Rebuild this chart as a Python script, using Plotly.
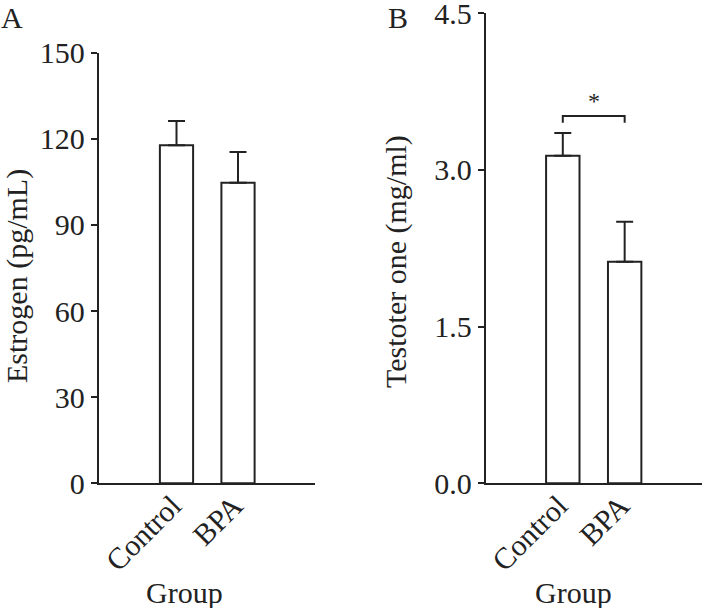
import plotly.graph_objects as go

groups = ["Control", "BPA"]
estrogen = [117.8, 104.7]
estrogen_err = [8.4, 10.7]
testosterone = [3.137, 2.122]
testosterone_err = [0.217, 0.383]
sig_level = 3.517
sig_label = "*"

W, H = 702, 608
FONT = "Liberation Serif"
LC = "#222222"
FS = 30

fig = go.Figure()
xpos = list(range(len(groups)))

for vals, errs, xa, ya in [(estrogen, estrogen_err, "x", "y"), (testosterone, testosterone_err, "x2", "y2")]:
    fig.add_trace(go.Bar(
        x=xpos, y=vals, width=0.54,
        marker=dict(color="white", line=dict(color=LC, width=2)),
        error_y=dict(type="data", symmetric=False, array=errs, arrayminus=[0] * len(errs),
                     color=LC, thickness=2, width=8.5),
        xaxis=xa, yaxis=ya, showlegend=False, hoverinfo="skip"))

ydom = [1 - 483.3 / H, 1 - 52.7 / H]
ydom2 = [1 - 483.3 / H, 1 - 13.3 / H]

axis_common = dict(showline=True, linewidth=2, linecolor=LC, showgrid=False, zeroline=False,
                   automargin=False, ticklabeloverflow="allow",
                   tickfont=dict(family=FONT, size=FS, color=LC))
xaxis_extra = dict(tickangle=-45, ticks="", ticklabelstandoff=-9, ticklabelshift=-4)

fig.update_layout(
    width=W, height=H, margin=dict(l=0, r=0, t=0, b=0, autoexpand=False),
    paper_bgcolor="white", plot_bgcolor="white",
    xaxis=dict(domain=[98.7 / W, 315 / W], range=[-1.265, 2.252], tickvals=xpos, ticktext=groups,
               anchor="y", **xaxis_extra, **axis_common),
    yaxis=dict(domain=ydom, range=[0, 150], tickvals=[0, 30, 60, 90, 120, 150],
               ticks="outside", ticklen=6, tickwidth=2, tickcolor=LC, anchor="x", **axis_common),
    xaxis2=dict(domain=[485.7 / W, 1.0], range=[-1.246, 2.25], tickvals=xpos, ticktext=groups,
                anchor="y2", **xaxis_extra, **axis_common),
    yaxis2=dict(domain=ydom2, range=[0, 4.5], tickvals=[0, 1.5, 3.0, 4.5], tickformat=".1f",
                ticks="outside", ticklen=6, tickwidth=2, tickcolor=LC, anchor="x2", **axis_common),
)

# significance bracket
drop = 0.064
fig.add_shape(type="path", xref="x2", yref="y2",
              path=f"M {xpos[0]},{sig_level - drop} L {xpos[0]},{sig_level} L {xpos[1]},{sig_level} L {xpos[1]},{sig_level - drop}",
              line=dict(color=LC, width=2))
fig.add_annotation(x=(xpos[0] + xpos[1]) / 2, y=sig_level, xref="x2", yref="y2", text=sig_label,
                   showarrow=False, yanchor="bottom", yshift=0, font=dict(family=FONT, size=24, color=LC))

anns = [
    dict(text="A", x=-1 / W, y=1 + 1 / H, xanchor="left", yanchor="top"),
    dict(text="B", x=386 / W, y=1 + 1 / H, xanchor="left", yanchor="top"),
    dict(text="Group", x=184.5 / W, y=1 - 592 / H, xanchor="center", yanchor="middle"),
    dict(text="Group", x=573 / W, y=1 - 592 / H, xanchor="center", yanchor="middle"),
    dict(text="Estrogen (pg/mL)", x=17 / W, y=1 - 276 / H, xanchor="center", yanchor="middle", textangle=-90),
    dict(text="Testoter one (mg/ml)", x=396 / W, y=1 - 262 / H, xanchor="center", yanchor="middle", textangle=-90),
]
for a in anns:
    fig.add_annotation(xref="paper", yref="paper", showarrow=False,
                       font=dict(family=FONT, size=FS, color=LC), **a)

fig.write_html("out.html", config={"displayModeBar": False},
               post_script="document.body.style.margin='0';document.body.style.overflow='hidden';")
